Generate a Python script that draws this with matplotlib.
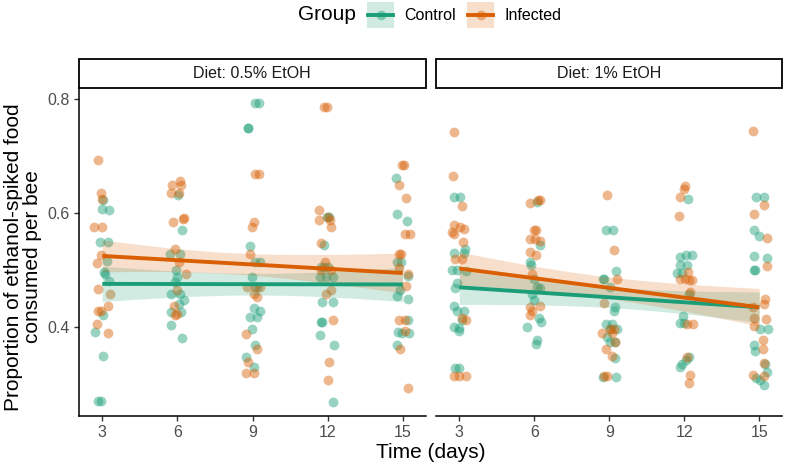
import matplotlib.pyplot as plt
import numpy as np
from matplotlib.patches import Rectangle
from matplotlib.lines import Line2D

plt.rcParams['font.family'] = ['Liberation Sans', 'DejaVu Sans']

green = '#1b9e77'
orange = '#d95f02'

# ---- data: (time in days incl. jitter, proportion) ----
# panel 1: Diet 0.5% EtOH
low_ctrl_t = [3.04, 2.97, 3.28, 2.91, 3.24, 3.17, 3.07, 3.11, 3.28, 3.04, 2.71, 3.01, 2.84, 2.93,
              6.03, 6.20, 5.71, 6.11, 5.93, 6.00, 5.89, 5.73, 6.11, 6.27, 6.07, 5.73, 6.13, 5.73, 6.20,
              9.11, 9.24, 8.81, 8.82, 8.91, 9.11, 9.31, 8.97, 9.17, 9.04, 9.31, 8.91, 9.17, 8.97, 9.11, 8.73, 9.04,
              11.96, 12.04, 11.87, 11.73, 11.87, 12.00, 11.69, 11.93, 12.20, 11.77, 12.23, 11.73, 11.77, 11.69, 12.27, 12.20,
              14.73, 14.76, 15.16, 14.76, 14.92, 15.23, 14.89, 14.76, 15.23, 15.23, 14.83, 14.96, 15.27, 14.76]
low_ctrl_y = [0.622, 0.606, 0.604, 0.549, 0.549, 0.516, 0.495, 0.492, 0.480, 0.420, 0.390, 0.349, 0.270, 0.270,
              0.631, 0.569, 0.527, 0.527, 0.499, 0.487, 0.478, 0.458, 0.458, 0.446, 0.440, 0.426, 0.426, 0.403, 0.380,
              0.792, 0.792, 0.748, 0.748, 0.542, 0.513, 0.513, 0.487, 0.470, 0.432, 0.428, 0.417, 0.417, 0.396, 0.367, 0.346, 0.330,
              0.592, 0.592, 0.544, 0.505, 0.505, 0.505, 0.487, 0.487, 0.487, 0.444, 0.444, 0.408, 0.408, 0.385, 0.367, 0.267,
              0.660, 0.597, 0.586, 0.513, 0.513, 0.488, 0.464, 0.453, 0.449, 0.411, 0.390, 0.388, 0.388, 0.367]

low_inf_t = [2.84, 2.93, 3.00, 2.67, 2.97, 2.93, 2.77, 2.84, 3.31, 3.24, 2.84, 2.93, 2.77, 3.24,
             6.11, 5.80, 6.13, 5.76, 6.07, 6.27, 6.24, 5.84, 5.91, 6.07, 6.33, 6.00, 5.87, 6.00, 5.89,
             9.11, 9.24, 9.04, 8.97, 8.91, 8.77, 9.11, 9.31, 9.04, 9.17, 8.73, 9.17, 8.84, 8.73, 9.07,
             11.87, 11.96, 11.67, 11.67, 12.00, 12.09, 12.13, 11.73, 11.91, 11.73, 12.13, 11.93, 12.13, 12.23, 12.04, 12.00,
             14.96, 15.05, 14.85, 15.13, 15.09, 15.29, 14.85, 14.92, 14.87, 15.23, 15.13, 14.87, 15.09, 15.09, 14.89, 15.23]
low_inf_y = [0.692, 0.635, 0.623, 0.575, 0.575, 0.526, 0.512, 0.466, 0.458, 0.437, 0.427, 0.427, 0.405, 0.389,
             0.656, 0.648, 0.648, 0.634, 0.634, 0.591, 0.588, 0.583, 0.537, 0.513, 0.493, 0.464, 0.437, 0.423, 0.420,
             0.667, 0.667, 0.584, 0.575, 0.528, 0.470, 0.470, 0.470, 0.458, 0.452, 0.387, 0.361, 0.338, 0.318, 0.318,
             0.786, 0.786, 0.604, 0.587, 0.593, 0.587, 0.575, 0.546, 0.513, 0.500, 0.500, 0.458, 0.464, 0.411, 0.338, 0.307,
             0.683, 0.683, 0.648, 0.626, 0.562, 0.562, 0.528, 0.528, 0.502, 0.493, 0.472, 0.411, 0.411, 0.393, 0.361, 0.293]

# panel 2: Diet 1% EtOH
high_ctrl_t = [2.77, 3.04, 2.77, 3.17, 3.21, 2.71, 2.91, 3.28, 2.91, 2.84, 2.77, 2.91, 3.20, 3.11, 2.80, 2.97, 3.00, 2.84, 2.97,
               6.11, 6.24, 5.84, 5.87, 6.00, 6.11, 6.24, 5.91, 5.97, 6.17, 6.27, 5.71, 6.11, 6.08,
               8.87, 9.15, 9.27, 8.75, 8.80, 9.04, 9.24, 9.17, 8.88, 9.11, 9.04, 9.31, 8.91, 9.04, 9.24, 9.24, 8.75, 9.28,
               12.13, 11.84, 12.08, 12.31, 11.81, 12.11, 11.71, 11.91, 12.17, 11.95, 11.84, 12.00, 12.17, 12.08, 11.91, 11.84,
               14.88, 15.17, 14.77, 14.97, 14.80, 15.31, 14.80, 14.84, 15.04, 15.33, 14.77, 14.84, 15.24, 15.31, 14.88, 15.04, 15.17]
high_ctrl_y = [0.627, 0.627, 0.530, 0.530, 0.537, 0.500, 0.500, 0.498, 0.477, 0.467, 0.436, 0.428, 0.428, 0.411, 0.400, 0.398, 0.392, 0.327, 0.327,
               0.619, 0.543, 0.513, 0.508, 0.484, 0.470, 0.467, 0.458, 0.446, 0.415, 0.408, 0.399, 0.377, 0.369,
               0.570, 0.570, 0.498, 0.483, 0.483, 0.470, 0.434, 0.427, 0.405, 0.405, 0.395, 0.395, 0.382, 0.373, 0.373, 0.345, 0.311, 0.311,
               0.623, 0.522, 0.525, 0.525, 0.508, 0.508, 0.494, 0.494, 0.457, 0.419, 0.407, 0.407, 0.347, 0.341, 0.335, 0.329,
               0.627, 0.627, 0.569, 0.559, 0.524, 0.520, 0.500, 0.500, 0.395, 0.395, 0.367, 0.358, 0.335, 0.320, 0.310, 0.307, 0.297]

high_inf_t = [2.77, 2.75, 3.11, 2.80, 3.01, 3.20, 2.71, 2.80, 3.13, 2.84, 3.11, 3.11, 3.28, 2.77, 2.97, 3.28,
              5.81, 6.13, 6.24, 5.97, 6.08, 5.84, 6.04, 6.24, 5.84, 6.08, 5.91, 6.24, 5.84, 5.91, 5.81,
              8.91, 9.17, 9.31, 8.77, 9.04, 9.17, 8.71, 9.11, 9.24, 8.87, 9.11, 8.77, 8.91,
              12.04, 11.97, 11.84, 11.77, 12.13, 11.81, 12.04, 12.17, 12.31, 12.21, 12.11, 12.33, 12.11, 12.24, 12.17,
              14.75, 15.20, 14.77, 15.31, 15.31, 15.24, 15.17, 14.75, 14.80, 15.28, 14.77, 15.13, 15.15, 15.17, 14.75, 15.17]
high_inf_y = [0.742, 0.665, 0.612, 0.578, 0.575, 0.571, 0.566, 0.562, 0.549, 0.519, 0.519, 0.415, 0.411, 0.313, 0.313, 0.313,
              0.617, 0.622, 0.622, 0.569, 0.569, 0.553, 0.553, 0.550, 0.531, 0.525, 0.493, 0.437, 0.435, 0.428, 0.421,
              0.630, 0.534, 0.484, 0.442, 0.396, 0.396, 0.388, 0.388, 0.373, 0.360, 0.348, 0.313, 0.313,
              0.647, 0.642, 0.628, 0.594, 0.496, 0.484, 0.484, 0.481, 0.481, 0.460, 0.405, 0.405, 0.347, 0.315, 0.301,
              0.743, 0.614, 0.597, 0.556, 0.506, 0.448, 0.440, 0.434, 0.415, 0.414, 0.401, 0.376, 0.361, 0.336, 0.315, 0.313]

# fitted lm lines (value at day 3 and day 15) and CI half-widths at days 3, 9, 15
low_ctrl_fit = [0.475, 0.474]
low_ctrl_hw = [0.031, 0.019, 0.030]
low_inf_fit = [0.524, 0.494]
low_inf_hw = [0.028, 0.019, 0.035]
high_ctrl_fit = [0.469, 0.434]
high_ctrl_hw = [0.030, 0.018, 0.027]
high_inf_fit = [0.502, 0.434]
high_inf_hw = [0.029, 0.019, 0.033]

panel_titles = ['Diet: 0.5% EtOH', 'Diet: 1% EtOH']
groups = ['Control', 'Infected']
days = [3, 6, 9, 12, 15]


def band(fit, hw):
    # straight fit line with a hyperbolic confidence band through the three read half-widths
    xs = np.linspace(3, 15, 80)
    line = fit[0] + (fit[1] - fit[0]) * (xs - 3) / 12.0
    h3, h9, h15 = [v ** 2 for v in hw]
    B = (h3 + h15 - 2 * h9) / 72.0
    xc = (216 - (h15 - h3) / B) / 24.0
    A = h9 - B * (9 - xc) ** 2
    w = np.sqrt(A + B * (xs - xc) ** 2)
    return xs, line, line - w, line + w


fig = plt.figure(figsize=(7.85, 4.67), dpi=100)
W, H = 785.0, 467.0
ax1 = fig.add_axes([79 / W, 1 - 416 / H, 346.5 / W, 327.7 / H])
ax2 = fig.add_axes([436 / W, 1 - 416 / H, 346 / W, 327.7 / H])

panels = [(ax1, [(low_ctrl_t, low_ctrl_y, low_ctrl_fit, low_ctrl_hw, green),
                 (low_inf_t, low_inf_y, low_inf_fit, low_inf_hw, orange)]),
          (ax2, [(high_ctrl_t, high_ctrl_y, high_ctrl_fit, high_ctrl_hw, green),
                 (high_inf_t, high_inf_y, high_inf_fit, high_inf_hw, orange)])]

for i, (ax, series) in enumerate(panels):
    for t, y, fit, hw, c in series:
        ax.scatter(t, y, s=50, color=c, alpha=0.45, linewidths=0, zorder=2)
    for t, y, fit, hw, c in series:
        xs, line, lo, hi = band(fit, hw)
        ax.fill_between(xs, lo, hi, color=c, alpha=0.2, linewidth=0, zorder=3)
        ax.plot(xs, line, color=c, linewidth=2.8, zorder=4, solid_capstyle='butt')
    ax.set_xlim(2.07, 15.91)
    ax.set_ylim(0.2433, 0.818)
    ax.set_xticks(days)
    ax.set_yticks([0.4, 0.6, 0.8])
    ax.set_yticklabels(['0.4', '0.6', '0.8'])
    for side in ['top', 'right']:
        ax.spines[side].set_visible(False)
    ax.spines['bottom'].set_linewidth(1.1)
    ax.spines['left'].set_linewidth(1.1)
    ax.tick_params(labelsize=11.5, labelcolor='#4d4d4d', length=3.5, width=1.0, color='#333333')
    ax.tick_params(axis='x', pad=3)
    # facet strip
    strip = Rectangle((0, 1.0), 1, 29.3 / 327.7, transform=ax.transAxes, facecolor='white',
                      edgecolor='black', linewidth=1.3, clip_on=False, zorder=5)
    ax.add_patch(strip)
    ax.text(0.5, 1.0 + 14.6 / 327.7, panel_titles[i], transform=ax.transAxes, ha='center', va='center',
            fontsize=11.5, color='#1a1a1a', zorder=6)

ax2.spines['left'].set_visible(False)
ax2.tick_params(axis='y', left=False, labelleft=False)

fig.text(23 / W, 1 - 257 / H, 'Proportion of ethanol-spiked food\nconsumed per bee', rotation=90,
         ha='center', va='center', fontsize=15, linespacing=1.05, multialignment='center')
fig.text((79 + 782) / 2 / W, 1 - 452 / H, 'Time (days)', ha='center', va='center', fontsize=15)

# legend on top
fig.text(298 / W, 1 - 15 / H, 'Group', ha='left', va='center', fontsize=15)
for c, x0, lab in [(green, 367, groups[0]), (orange, 467, groups[1])]:
    fig.add_artist(Rectangle((x0 / W, 1 - 28 / H), 27 / W, 26 / H, transform=fig.transFigure,
                             facecolor=c, alpha=0.2, linewidth=0))
    fig.add_artist(Line2D([(x0 + 1) / W, (x0 + 26) / W], [1 - 15 / H, 1 - 15 / H], transform=fig.transFigure,
                          color=c, linewidth=2.8))
    fig.add_artist(Line2D([(x0 + 13.5) / W], [1 - 15 / H], transform=fig.transFigure, marker='o',
                          markersize=7, color=c, alpha=0.45, markeredgewidth=0, linestyle='none'))
    fig.text((x0 + 37) / W, 1 - 15 / H, lab, ha='left', va='center', fontsize=11.5)

fig.savefig('out.png', dpi=100)
